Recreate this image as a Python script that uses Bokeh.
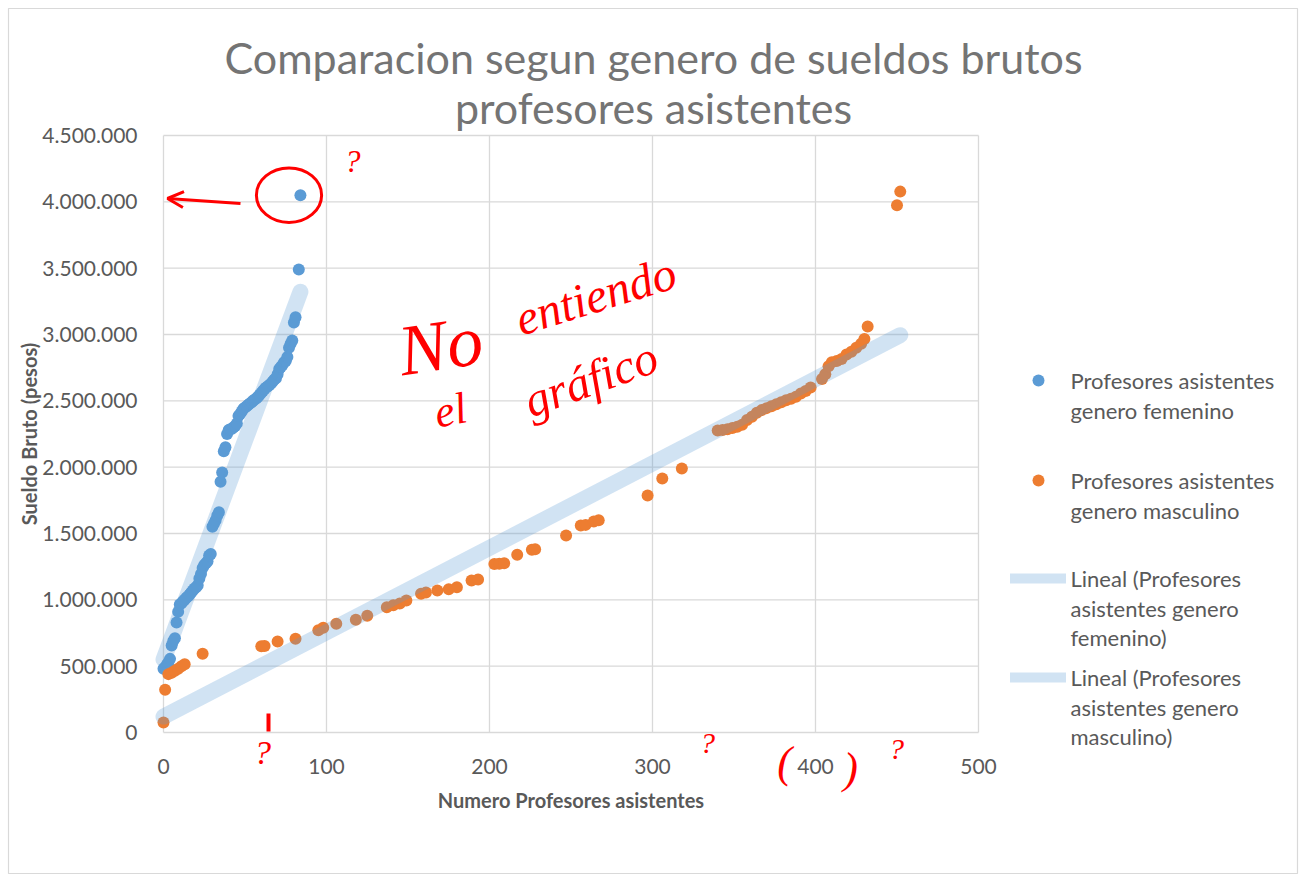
import math
from bokeh.plotting import figure
from bokeh.models import (Legend, LegendItem, Label, Arrow, OpenHead, Range1d,
                          FixedTicker)
from bokeh.embed import file_html
from bokeh.resources import INLINE

# ---------------- data ----------------
fem_x = [0, 1, 2, 3, 4, 5, 6, 7, 8, 9, 10, 11, 12, 13, 14, 15, 16, 17, 18, 19,
         20, 21, 22, 23, 24, 25, 26, 27, 28, 29, 30, 31, 32, 33, 34, 35, 36, 37,
         38, 39, 40, 41, 42, 43, 44, 45, 46, 47, 48, 49, 50, 51, 52, 53, 54, 55,
         56, 57, 58, 59, 60, 61, 62, 63, 64, 65, 66, 67, 68, 69, 70, 71, 72, 73,
         74, 75, 76, 77, 78, 79, 80, 81, 83, 84]
fem_y = [480000, 490000, 510000, 530000, 555000, 656000, 690000, 710000, 830000,
         910000, 965000, 975000, 990000, 1000000, 1015000, 1025000, 1040000,
         1055000, 1070000, 1085000, 1095000, 1110000, 1160000, 1195000, 1240000,
         1262000, 1275000, 1290000, 1335000, 1345000, 1550000, 1575000, 1600000,
         1635000, 1660000, 1890000, 1960000, 2120000, 2150000, 2250000, 2280000,
         2285000, 2290000, 2300000, 2310000, 2330000, 2385000, 2400000, 2420000,
         2440000, 2450000, 2460000, 2470000, 2480000, 2490000, 2500000, 2510000,
         2520000, 2530000, 2545000, 2560000, 2575000, 2590000, 2600000, 2610000,
         2620000, 2630000, 2645000, 2660000, 2670000, 2700000, 2740000, 2755000,
         2770000, 2790000, 2800000, 2830000, 2900000, 2930000, 2955000, 3090000,
         3130000, 3490000, 4050000]

mas_x = [0, 1, 3, 5, 7, 9, 11, 13, 24, 60, 62, 70, 81, 95, 98, 106, 118, 125,
         137, 141, 145, 149, 158, 161, 168, 175, 180, 189, 193, 203, 206, 209,
         217, 226, 228, 247, 256, 259, 264, 267, 297, 306, 318, 340, 343, 346,
         349, 352, 355, 358, 361, 364, 367, 370, 373, 376, 379, 382, 385, 388,
         391, 394, 397, 404, 406, 408, 410, 413, 416, 419, 422, 425, 428, 430,
         432, 450, 452]
mas_y = [75000, 322000, 440000, 450000, 465000, 480000, 500000, 515000, 593000,
         650000, 652000, 686000, 706000, 770000, 790000, 820000, 850000, 880000,
         944000, 960000, 972000, 995000, 1045000, 1055000, 1070000, 1080000,
         1095000, 1145000, 1153000, 1270000, 1272000, 1275000, 1340000, 1377000,
         1382000, 1485000, 1560000, 1565000, 1590000, 1600000, 1786000, 1914000,
         1990000, 2276000, 2280000, 2285000, 2295000, 2305000, 2320000, 2355000,
         2380000, 2410000, 2430000, 2445000, 2460000, 2475000, 2490000, 2505000,
         2515000, 2530000, 2555000, 2575000, 2600000, 2665000, 2700000, 2760000,
         2790000, 2800000, 2815000, 2850000, 2870000, 2900000, 2930000, 2966000,
         3060000, 3975000, 4077000]

# linear trend lines (intercept, slope) as shown in the chart
trend_fem = (550000, 33000)
trend_mas = (120000, 6360)

x_ticks = [0, 100, 200, 300, 400, 500]
y_ticks = [0, 500000, 1000000, 1500000, 2000000, 2500000, 3000000, 3500000,
           4000000, 4500000]
y_tick_labels = ["0", "500.000", "1.000.000", "1.500.000", "2.000.000",
                 "2.500.000", "3.000.000", "3.500.000", "4.000.000", "4.500.000"]

legend_labels = [["Profesores asistentes", "genero femenino"],
                 ["Profesores asistentes", "genero masculino"],
                 ["Lineal (Profesores", "asistentes genero", "femenino)"],
                 ["Lineal (Profesores", "asistentes genero", "masculino)"]]

title_lines = ["Comparacion segun genero de sueldos brutos",
               "profesores asistentes"]

BLUE = "#5B9BD5"
ORANGE = "#ED7D31"
GREY = "#595959"
FONT = "Lato"
NAN = float("nan")

# ---------------- layout: frame covers the whole canvas ----------------
W, H = 1300, 876
PX_L, PX_R, PX_T, PX_B = 163, 978, 135, 732          # plot area in canvas px
X0, X1, Y0, Y1 = 0, 500, 0, 4500000
sx = (PX_R - PX_L) / (X1 - X0)
sy = (PX_B - PX_T) / (Y1 - Y0)

def px2x(px):
    return X0 + (px - PX_L) / sx

def px2y(py):
    return Y0 + (PX_B - py) / sy

p = figure(width=W, height=H, min_border=0,
           x_range=Range1d(px2x(0), px2x(W)), y_range=Range1d(px2y(H), px2y(0)),
           output_backend="svg", toolbar_location=None)
p.background_fill_color = "#ffffff"
p.border_fill_color = "#ffffff"
p.outline_line_color = None
p.grid.visible = False

for ax in (p.xaxis, p.yaxis):
    ax.fixed_location = 0
    ax.axis_line_color = None
    ax.major_tick_line_color = None
    ax.minor_tick_line_color = None
    ax.major_label_text_color = GREY
    ax.major_label_text_font = FONT
    ax.major_label_text_font_size = "21px"
    ax.major_label_standoff = 20
    ax.axis_label_text_font = FONT
    ax.axis_label_text_font_style = "bold"
    ax.axis_label_text_font_size = "20px"
    ax.axis_label_text_color = GREY

p.xaxis.ticker = FixedTicker(ticks=x_ticks)
p.xaxis.bounds = (X0, X1)
p.yaxis.ticker = FixedTicker(ticks=y_ticks)
p.yaxis.bounds = (Y0, Y1)
p.yaxis.major_label_overrides = {t: l for t, l in zip(y_ticks, y_tick_labels)}
p.xaxis.axis_label = "Numero Profesores asistentes"
p.xaxis.axis_label_standoff = 11
p.yaxis.axis_label = "Sueldo Bruto (pesos)"
p.yaxis.axis_label_standoff = -2

# chart-area border
p.quad(left=[px2x(8)], right=[px2x(W - 3)], top=[px2y(8)], bottom=[px2y(H - 3)],
       fill_color=None, line_color="#d9d9d9", line_width=1.2)

# grid lines at the tick positions, limited to the plot area
p.segment(x0=x_ticks, x1=x_ticks, y0=[Y0] * len(x_ticks), y1=[Y1] * len(x_ticks),
          line_color="#d9d9d9", line_width=1.3)
p.segment(x0=[X0] * len(y_ticks), x1=[X1] * len(y_ticks), y0=y_ticks, y1=y_ticks,
          line_color="#d9d9d9", line_width=1.3)

# points
r_fem = p.scatter(fem_x, fem_y, size=12, color=BLUE, line_color=None)
r_mas = p.scatter(mas_x, mas_y, size=12, color=ORANGE, line_color=None)

# trend lines
fx = [0, max(fem_x)]
mx = [0, max(mas_x)]
p.line(fx, [trend_fem[0] + trend_fem[1] * v for v in fx], line_color=BLUE,
       line_alpha=0.28, line_width=16, line_cap="round")
p.line(mx, [trend_mas[0] + trend_mas[1] * v for v in mx], line_color=BLUE,
       line_alpha=0.28, line_width=16, line_cap="round")

# legend keys (one Legend per entry so each can sit at its own height)
lg_fem = p.scatter([NAN], [NAN], size=12, color=BLUE, line_color=None)
lg_mas = p.scatter([NAN], [NAN], size=12, color=ORANGE, line_color=None)
lg_lin1 = p.line([NAN, NAN], [NAN, NAN], line_color=BLUE, line_alpha=0.28,
                 line_width=10, line_cap="round")
lg_lin2 = p.line([NAN, NAN], [NAN, NAN], line_color=BLUE, line_alpha=0.28,
                 line_width=10, line_cap="round")

legend_first_line_y = [380, 480, 578, 677]
for rend, cy in zip([lg_fem, lg_mas, lg_lin1, lg_lin2], legend_first_line_y):
    lg = Legend(items=[LegendItem(label=" ", renderers=[rend])],
                location=(1010, H - (cy + 15)),
                border_line_color=None, background_fill_alpha=0,
                padding=0, margin=0, spacing=0, glyph_width=56, glyph_height=30,
                label_width=0, label_height=30, label_standoff=0,
                label_text_font_size="2px")
    p.add_layout(lg, "center")

for lines, cy in zip(legend_labels, legend_first_line_y):
    for i, t in enumerate(lines):
        p.add_layout(Label(x=px2x(1070), y=px2y(cy + 29.5 * i), text=t,
                           text_font=FONT, text_font_size="22px",
                           text_color=GREY, text_baseline="middle",
                           text_align="left"))

# title
for i, t in enumerate(title_lines):
    p.add_layout(Label(x=px2x(653), y=px2y(57 + 50 * i), text=t,
                       text_font=FONT, text_font_size="43px",
                       text_color="#747474", text_baseline="middle",
                       text_align="center"))

# ---------------- red hand-written annotations ----------------
RED = "#ff0000"
p.ellipse([fem_x[-1] - 7], [fem_y[-1]], width=40, height=410000,
          fill_color=None, line_color=RED, line_width=3)
p.add_layout(Arrow(end=OpenHead(size=16, line_color=RED, line_width=3),
                   x_start=px2x(240), y_start=px2y(203),
                   x_end=px2x(167), y_end=px2y(198),
                   line_color=RED, line_width=3))
p.add_layout(Arrow(end=None, x_start=px2x(268), y_start=px2y(713),
                   x_end=px2x(268), y_end=px2y(731),
                   line_color=RED, line_width=4))

hand = [("?", 352, 160, 32, 0.0), ("?", 262, 752, 34, 0.0),
        ("?", 707, 742, 30, 0.0), ("?", 896, 748, 30, 0.0),
        ("(", 784, 762, 44, 0.0), (")", 850, 768, 44, 0.0),
        ("No", 440, 345, 72, 0.15), ("entiendo", 595, 295, 48, 0.3),
        ("el", 450, 410, 44, 0.2), ("gráfico", 590, 378, 48, 0.35)]
for t, x, y, s, a in hand:
    p.add_layout(Label(x=px2x(x), y=px2y(y), text=t, text_font="Liberation Serif",
                       text_font_style="italic", text_font_size=f"{s}px",
                       text_color=RED, text_baseline="middle", text_align="center",
                       angle=a))

open("out.html", "w").write(file_html(p, INLINE))
